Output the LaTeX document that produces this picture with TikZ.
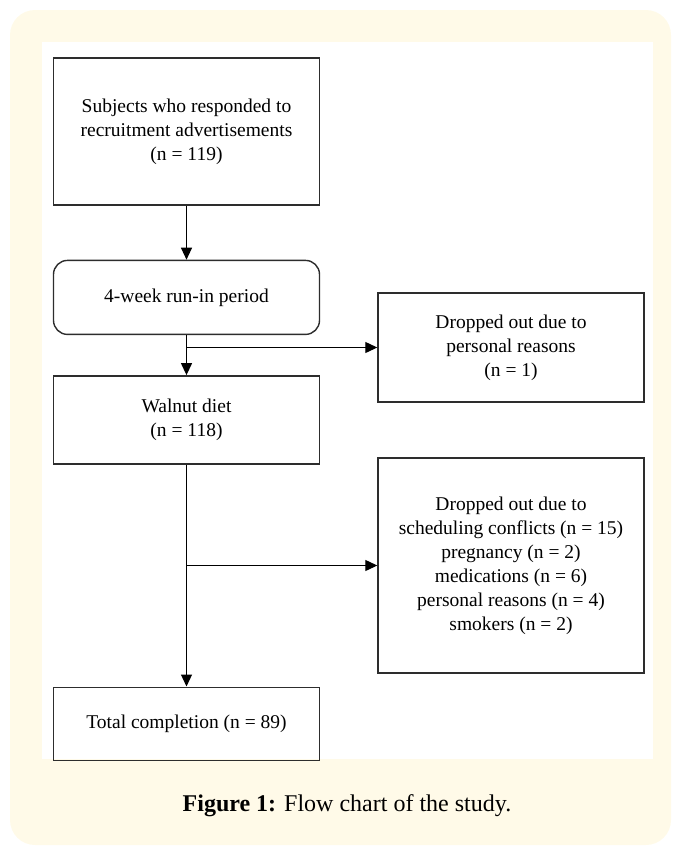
\documentclass[tikz,border=0pt]{standalone}
\usepackage{fontspec}
\setmainfont{Liberation Serif}
\usepackage{tikz}
\usetikzlibrary{arrows.meta, positioning, calc}
\definecolor{paper}{RGB}{255,250,232}
\definecolor{boxline}{RGB}{45,45,45}

\begin{document}
\begin{tikzpicture}[x=1pt, y=-1pt,
    box/.style={draw=boxline, line width=1.4pt, minimum width=266pt, align=center,
                inner sep=4pt, font=\fontsize{19.5}{24}\selectfont},
    arrow/.style={-{Triangle[length=12pt, width=11pt]}, line width=1.2pt}]
    % Background panel
    \useasboundingbox (0,0) rectangle (680,852);
    \fill[paper, rounded corners=25pt] (10,10) rectangle (671,845);
    \fill[white] (42,42) rectangle (653,759);

    % Main column
    \node[box, minimum height=147pt] (subj) at (186.5,131.5)
        {Subjects who responded to\\ recruitment advertisements\\ (n = 119)};
    \node[box, rounded corners=14pt, minimum height=74pt, below=54pt of subj] (runin)
        {4-week run-in period};
    \node[box, minimum height=88pt, below=40pt of runin] (walnut)
        {Walnut diet\\ (n = 118)};
    \node[box, minimum height=73pt, below=222pt of walnut] (total)
        {Total completion (n = 89)};

    % Drop-out boxes - right column
    \node[box, minimum height=109pt] (drop1) at (511,347.5)
        {Dropped out due to\\ personal reasons\\ (n = 1)};
    \node[box, minimum height=215pt] (drop2) at (511,565.5)
        {Dropped out due to\\ scheduling conflicts (n = 15)\\ pregnancy (n = 2)\\
         medications (n = 6)\\ personal reasons (n = 4)\\ smokers (n = 2)};

    % Arrows down the column and out to the drop-outs
    \draw[arrow] (subj) -- (runin);
    \draw[arrow] (runin) -- (walnut);
    \draw[arrow] (walnut) -- (total);
    \draw[arrow] (runin.south |- drop1.west) -- (drop1.west);
    \draw[arrow] (walnut.south |- drop2.west) -- (drop2.west);

    % Caption
    \node[font=\fontsize{24}{28}\selectfont] (caption) at (347,806)
        {\textbf{Figure 1:} Flow chart of the study.};
\end{tikzpicture}
\end{document}
